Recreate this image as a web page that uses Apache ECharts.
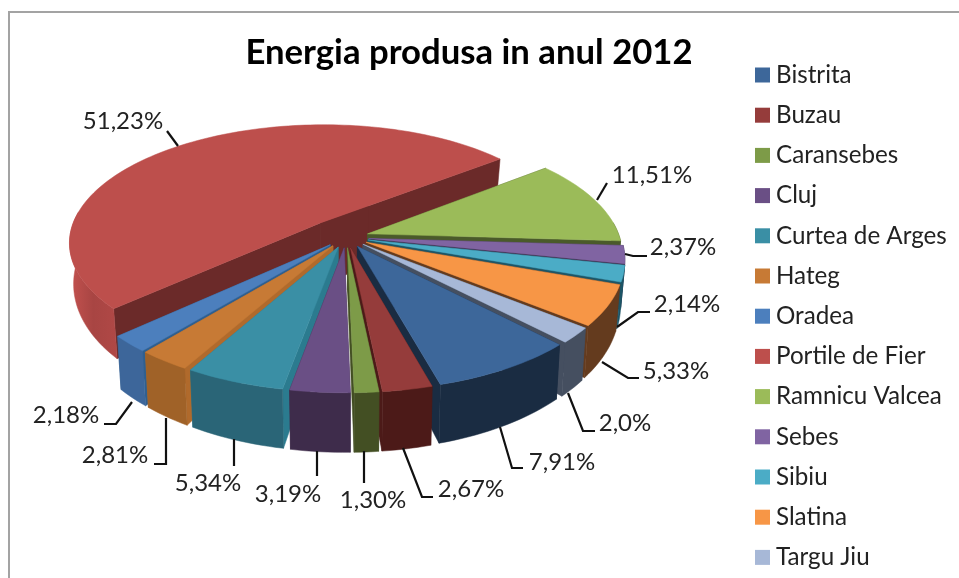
<!DOCTYPE html>
<html><head><meta charset="utf-8">
<style>html,body{margin:0;padding:0;background:#fff}#c{width:959px;height:578px}</style>
<script src="https://cdn.jsdelivr.net/npm/echarts@6/dist/echarts.min.js"></script>
</head><body><div id="c"></div>
<script>
// ---- data
const categories = ['Bistrita','Buzau','Caransebes','Cluj','Curtea de Arges','Hateg','Oradea','Portile de Fier','Ramnicu Valcea','Sebes','Sibiu','Slatina','Targu Jiu'];
const shares = [7.91,2.67,1.30,3.19,5.34,2.81,2.18,51.23,11.51,2.37,2.14,5.33,2.0];
const shareLabels = ['7,91%','2,67%','1,30%','3,19%','5,34%','2,81%','2,18%','51,23%','11,51%','2,37%','2,14%','5,33%','2,0%'];
const titleText = 'Energia produsa in anul 2012';
// ---- styles
const topColors  = ['#3D679A','#953C3B','#7D9B48','#6A4F85','#3A8FA5','#C77A35','#4C7FBD','#BD4F4C','#9BBB59','#8064A2','#4BACC6','#F79646','#A7B8D7'];
const wallColors = ['#1A2C42','#4C1A18','#434F23','#3E2C4B','#2A6577','#A06228','#3D669A','#A84543','#4A5A2A','#3F3250','#1D5566','#643B1E','#454F60'];
const faceColors = ['#1A2C42','#4C1A18','#434F23','#3E2C4B','#2B7B8F','#B06A2C','#2F5F8F','#6B2A29','#4A5A2A','#3F3250','#1D5566','#643B1E','#454F60'];
const explode    = [.09,.09,.09,.09,.09,.09,.09,.16,.09,.09,.09,.09,.09];
// ---- 3D view
const view = {cx:346, cy:237, rx:252, ry:118, k:.16, startDeg:136, hBase:40, hSlope:18, bottomShrink:.985};
// ---- label layout: text centre, then leader polyline
const labelPos = [[562,462],[471,489],[373,500],[288,494],[208,483],[115,455],[66,415],[123,121],[652,175],[683,247],[687,304],[676,371],[625,423]];
const leaders = [
 [[523,468],[512,468],[500,427]],
 [[433,497],[422,497],[403,448]],
 [[364,483],[364,451]],
 [[317,476],[317,451]],
 [[234,466],[234,439]],
 [[154,464],[166,464],[166,418]],
 [[104,424],[116,424],[132,402]],
 [[167,131],[178,146]],
 [[607,183],[597,200]],
 [[647,256],[633,256],[625,254]],
 [[650,312],[638,312],[617,327]],
 [[639,378],[628,378],[602,362]],
 [[595,431],[583,431],[568,393]]
];
const FONT = 'Lato, "Open Sans", sans-serif';

const total = shares.reduce((a,b)=>a+b,0);
const rad = d => d*Math.PI/180;
function project(u,v){
  const s = 1/(1-view.k*v);
  return [view.cx+view.rx*u*s, view.cy+view.ry*v*s];
}
function lower(p,v){
  const h = view.hBase+view.hSlope*v;
  return [view.cx+(p[0]-view.cx)*view.bottomShrink, p[1]+h];
}
const spans = []; let acc = view.startDeg;
shares.forEach(v=>{const d=v/total*360; spans.push([acc,acc+d]); acc+=d;});

function sliceShapes(i){
  const [a0,a1]=spans[i], mid=rad((a0+a1)/2), E=explode[i];
  const du=E*Math.sin(mid), dv=-E*Math.cos(mid);
  const apex=project(du,dv), apexB=lower(apex,dv);
  const n=Math.max(2,Math.ceil((a1-a0)/1.5));
  const rim=[],rimB=[],wallTop=[],wallBot=[];
  for(let j=0;j<=n;j++){
    const t=rad(a0+(a1-a0)*j/n), u=Math.sin(t)+du, v=-Math.cos(t)+dv;
    const p=project(u,v), b=lower(p,v); rim.push(p); rimB.push(b);
    if(-Math.cos(t)>-.12){ wallTop.push(p); wallBot.push(b); }
  }
  const edgeV=-Math.cos(rad(a1))*.25+dv;
  const hubFar=project(Math.sin(rad(a1))*.25+du,edgeV);
  return {apex,apexB,rim,rimB,wallTop,wallBot,edgeV,hubFar};
}
function renderSlice(params,api){
  const i=api.value(0), g=sliceShapes(i), last=g.rim.length-1;
  const poly=(points,fill)=>({type:'polygon',shape:{points},style:{fill,stroke:fill,lineWidth:.5}});
  const isBack = explode[i]===Math.max.apply(null,explode);
  const wallFill = isBack
    ? new echarts.graphic.LinearGradient(0,0,1,0,[{offset:0,color:'#C4524F'},{offset:.5,color:'#A84543'},{offset:1,color:'#B04846'}])
    : wallColors[i];
  const children=[];
  children.push(poly([g.apex,g.rim[0],g.rimB[0],g.apexB],faceColors[i]));
  children.push(poly([g.apex,g.rim[last],g.rimB[last],g.apexB],faceColors[i]));
  if(isBack){
    const c=project(0,0);
    children.push(poly([g.apex,g.apexB,lower(c,-.1),lower(g.hubFar,g.edgeV),g.hubFar],faceColors[i]));
  }
  if(g.wallTop.length>1) children.push(poly(g.wallTop.concat(g.wallBot.slice().reverse()),wallFill));
  children.push(poly([g.apex].concat(g.rim),topColors[i]));
  children.push({type:'polyline',shape:{points:leaders[i]},style:{fill:'none',stroke:'#111',lineWidth:2.2}});
  children.push({type:'text',style:{x:labelPos[i][0],y:labelPos[i][1],text:shareLabels[i],fill:'#222',
      font:'24px '+FONT,textAlign:'center',textVerticalAlign:'middle'}});
  return {type:'group',children};
}
// back-to-front paint order by depth of each slice's middle
const order = categories.map((_,i)=>i).sort((a,b)=>{
  const d=i=>-Math.cos(rad((spans[i][0]+spans[i][1])/2));
  return d(a)-d(b);
});
const series = order.map((i,rank)=>({
  type:'custom', name:categories[i], coordinateSystem:'none', z:2+rank,
  itemStyle:{color:topColors[i]},
  encode:{value:0}, data:[[i,shares[i]]], renderItem:renderSlice, silent:true, animation:false
}));
const chart = echarts.init(document.getElementById('c'),null,{renderer:'canvas'});
chart.setOption({
  animation:false, backgroundColor:'#fff',
  title:{text:titleText,left:464,top:30,textAlign:'center',
    textStyle:{fontFamily:FONT,fontWeight:'bold',fontSize:34.7,color:'#000'}},
  legend:{data:categories,orient:'vertical',left:755,top:63,padding:0,height:520,icon:'rect',itemWidth:15,itemHeight:15,itemGap:16.2,
    selectedMode:false,textStyle:{fontFamily:FONT,fontSize:24.2,color:'#222',lineHeight:24,padding:[0,0,0,1]}},
  graphic:[{type:'polyline',shape:{points:[[9,578],[9,12],[959,12]]},style:{fill:'none',stroke:'#A3A3A3',lineWidth:2},z:100}],
  series
});
</script></body></html>
